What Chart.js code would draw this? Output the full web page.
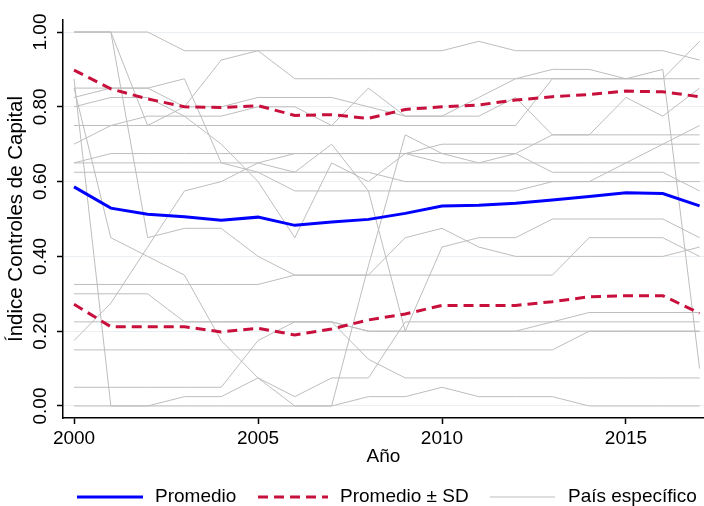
<!DOCTYPE html>
<html>
<head>
<meta charset="utf-8">
<script src="https://cdn.jsdelivr.net/npm/chart.js@4.4.1/dist/chart.umd.min.js"></script>
<style>
  html, body { margin: 0; padding: 0; background: #ffffff; }
  #grafico { display: block; }
</style>
</head>
<body>
<canvas id="grafico" width="704" height="506"></canvas>
<script>
// Años de la serie
const anios = [2000, 2001, 2002, 2003, 2004, 2005, 2006, 2007, 2008, 2009,
               2010, 2011, 2012, 2013, 2014, 2015, 2016, 2017];

// Promedio del índice y bandas de ± una desviación estándar
const promedio      = [0.586, 0.529, 0.513, 0.506, 0.497, 0.505, 0.483, 0.492, 0.499, 0.515,
                       0.535, 0.537, 0.542, 0.551, 0.560, 0.570, 0.568, 0.535];
const promedioMasSD = [0.898, 0.848, 0.821, 0.800, 0.798, 0.803, 0.777, 0.779, 0.769, 0.793,
                       0.800, 0.805, 0.818, 0.827, 0.833, 0.842, 0.840, 0.827];
const promedioMenosSD = [0.272, 0.212, 0.212, 0.212, 0.198, 0.208, 0.190, 0.206, 0.230, 0.246,
                         0.269, 0.269, 0.269, 0.279, 0.292, 0.295, 0.295, 0.248];

// Índice por país
const paisA = [1, 1, 1, .95, .95, .95, .95, .95, .95, .95, .95, .975, .95, .95, .95, .95, .95, .925];
const paisB = [1, 1, .75, .80, .925, .95, .875, .875, .875, .875, .875, .875, .875, .875, .875, .875, .875, .875];
const paisC = [.875, 0, 0, .025, .025, .075, .025, .075, .075, .225, .225, .225, .225, .225, .225, .225, .225, .225];
const paisD = [.85, .45, .40, .35, .175, .075, 0, 0, .375, .725, .675, .65, .65, .65, .65, .65, .65, .65];
const paisE = [.85, .85, .85, .875, .65, .625, .575, .575, .575, .575, .575, .575, .575, .60, .60, .60, .60, .60];
const paisF = [.80, .825, .825, .775, .775, .80, .80, .75, .85, .775, .775, .775, .825, .725, .725, .825, .775, .85];
const paisG = [.825, .85, .85, .80, .80, .825, .825, .825, .80, .775, .775, .825, .875, .90, .90, .875, .90, .10];
const paisH = [.75, .75, .75, .75, .75, .75, .75, .75, .75, .75, .75, .75, .75, .875, .875, .875, .875, .975];
const paisI = [.625, .625, .625, .625, .625, .625, .625, .625, .625, .60, .60, .60, .60, .60, .60, .65, .70, .75];
const paisJ = [.70, .75, .775, .775, .70, .60, .45, .65, .60, .675, .65, .65, .675, .725, .725, .725, .725, .725];
const paisK = [.175, .275, .425, .575, .60, .65, .675, .675, .675, .675, .70, .70, .70, .70, .70, .70, .70, .70];
const paisL = [.65, .675, .675, .675, .675, .675, .675, .675, .675, .675, .675, .675, .675, .625, .625, .625, .625, .575];
const paisM = [1, 1, .45, .475, .475, .40, .35, .35, .35, .45, .475, .425, .40, .40, .40, .40, .40, .425];
const paisN = [.65, .65, .65, .65, .65, .65, .625, .70, .575, .20, .425, .45, .45, .50, .50, .50, .50, .45];
const paisO = [.325, .325, .325, .325, .325, .325, .35, .35, .35, .35, .35, .35, .35, .35, .45, .45, .45, .40];
const paisP = [.30, .30, .30, .225, .225, .225, .225, .225, .20, .20, .20, .20, .20, .225, .25, .25, .25, .25];
const paisQ = [.225, .225, .225, .225, .225, .225, .225, .225, .20, .20, .20, .20, .20, .20, .20, .20, .20, .20];
const paisR = [0, 0, 0, 0, 0, 0, 0, 0, .025, .025, .05, .025, .025, .025, 0, 0, 0, 0];
const paisS = [.05, .05, .05, .05, .05, .175, .225, .225, .125, .075, .075, .075, .075, .075, .075, .075, .075, .075];
const paisT = [.15, .15, .15, .15, .15, .15, .15, .15, .15, .15, .15, .15, .15, .15, .20, .20, .20, .20];

const paises = [paisA, paisB, paisC, paisD, paisE, paisF, paisG, paisH, paisI, paisJ,
                paisK, paisL, paisM, paisN, paisO, paisP, paisQ, paisR, paisS, paisT];

// Marcas de los ejes
const ticksX = [2000, 2005, 2010, 2015];
const ticksY = [0, 0.2, 0.4, 0.6, 0.8, 1.0];

const FUENTE = '"Liberation Sans", Arial, Helvetica, sans-serif';
const TAM = 19;
const AZUL = '#0000ff';
const ROJO = '#c8103c';
const GRIS = '#bdbdbd';

const aPuntos = serie => anios.map((a, i) => ({ x: a, y: serie[i] }));

const conjuntos = [
  { label: 'Promedio', data: aPuntos(promedio), borderColor: AZUL, backgroundColor: AZUL,
    borderWidth: 3, order: 0 },
  { label: 'Promedio ± SD', data: aPuntos(promedioMasSD), borderColor: ROJO, backgroundColor: ROJO,
    borderWidth: 3, borderDash: [10, 6], order: 1 },
  { label: 'Promedio ± SD', data: aPuntos(promedioMenosSD), borderColor: ROJO, backgroundColor: ROJO,
    borderWidth: 3, borderDash: [10, 6], order: 2 },
  ...paises.map(p => ({ label: 'País específico', data: aPuntos(p), borderColor: GRIS,
    backgroundColor: GRIS, borderWidth: 1, order: 3 }))
];

// Etiquetas verticales del eje Y
const etiquetasEjeY = {
  id: 'etiquetasEjeY',
  afterDraw(chart) {
    const { ctx } = chart;
    const y = chart.scales.y;
    ctx.save();
    ctx.font = `${TAM}px ${FUENTE}`;
    ctx.fillStyle = '#000';
    ctx.textAlign = 'center';
    ctx.textBaseline = 'middle';
    ticksY.forEach(v => {
      ctx.save();
      ctx.translate(41, y.getPixelForValue(v));
      ctx.rotate(-Math.PI / 2);
      ctx.fillText(v.toFixed(2), 0, 0);
      ctx.restore();
    });
    ctx.restore();
  }
};

// Leyenda inferior
const leyenda = {
  id: 'leyenda',
  afterDraw(chart) {
    const { ctx } = chart;
    const ds = chart.data.datasets;
    const yl = 497;
    const items = [
      { x0: 77, x1: 143, tx: 155, d: ds[0] },
      { x0: 258, x1: 328, tx: 340, d: ds[1] },
      { x0: 490, x1: 555, tx: 568, d: ds[3] }
    ];
    ctx.save();
    items.forEach(it => {
      ctx.beginPath();
      ctx.strokeStyle = it.d.borderColor;
      ctx.lineWidth = it.d.borderWidth;
      ctx.setLineDash(it.d.borderDash || []);
      ctx.moveTo(it.x0, yl);
      ctx.lineTo(it.x1, yl);
      ctx.stroke();
      ctx.setLineDash([]);
      ctx.font = `${TAM}px ${FUENTE}`;
      ctx.fillStyle = '#000';
      ctx.textAlign = 'left';
      ctx.textBaseline = 'middle';
      ctx.fillText(it.d.label, it.tx, yl);
    });
    ctx.restore();
  }
};

new Chart(document.getElementById('grafico'), {
  type: 'line',
  data: { datasets: conjuntos },
  options: {
    responsive: false,
    animation: false,
    devicePixelRatio: 1,
    layout: { padding: { top: 20, right: 0, bottom: 32, left: 0 } },
    elements: {
      point: { radius: 0, hoverRadius: 0 },
      line: { tension: 0, fill: false }
    },
    plugins: {
      legend: { display: false },
      tooltip: { enabled: false }
    },
    scales: {
      x: {
        type: 'linear',
        min: 1999.70,
        max: 2017.12,
        afterBuildTicks: s => { s.ticks = ticksX.map(v => ({ value: v })); },
        afterFit: s => { s.height = 56; },
        ticks: {
          color: '#000', font: { family: FUENTE, size: TAM }, padding: 3,
          autoSkip: false, maxRotation: 0, minRotation: 0,
          callback: v => String(v)
        },
        grid: { drawOnChartArea: false, drawTicks: true, tickLength: 6, tickColor: '#000', tickWidth: 1.5 },
        border: { display: true, color: '#000', width: 1.5 },
        title: { display: true, text: 'Año', color: '#000',
                 font: { family: FUENTE, size: TAM }, padding: { top: 0, bottom: 6 } }
      },
      y: {
        type: 'linear',
        min: -0.0321,
        max: 1.0321,
        afterBuildTicks: s => { s.ticks = ticksY.map(v => ({ value: v })); },
        afterFit: s => { s.width = 63; },
        ticks: { display: false },
        grid: { color: '#e9eff2', lineWidth: 1, drawTicks: true, tickLength: 6,
                tickColor: '#000', tickWidth: 1.5 },
        border: { display: true, color: '#000', width: 1.5 },
        title: { display: true, text: 'Índice Controles de Capital', color: '#000',
                 font: { family: FUENTE, size: 20.5 }, padding: { top: 4, bottom: 0 } }
      }
    }
  },
  plugins: [etiquetasEjeY, leyenda]
});
</script>
</body>
</html>
